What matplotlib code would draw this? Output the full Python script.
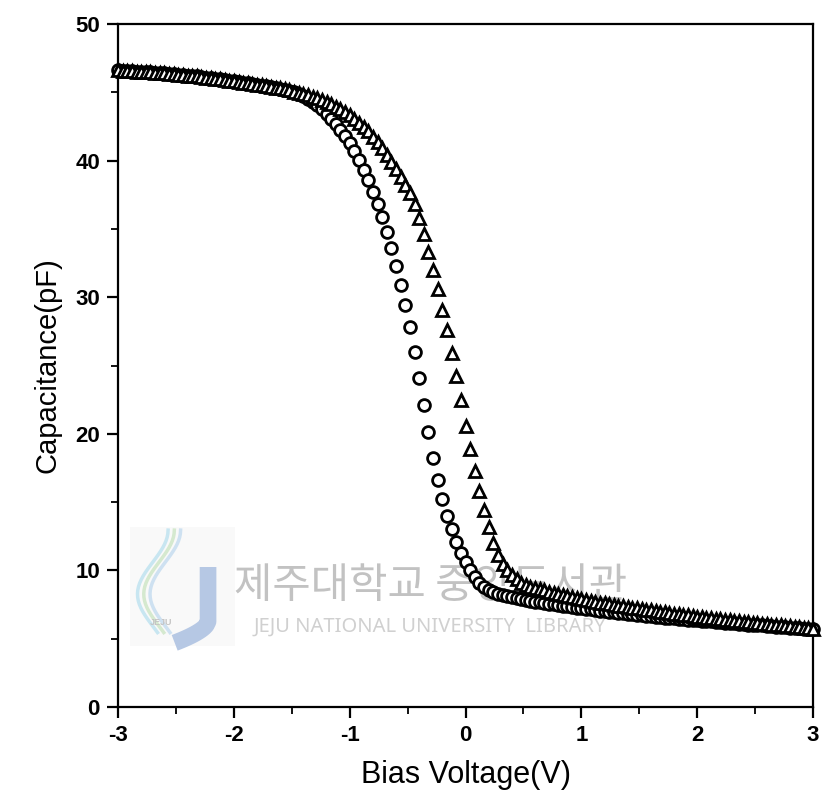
import numpy as np
import matplotlib

matplotlib.use("Agg")
import matplotlib.pyplot as plt  # noqa: E402
from matplotlib.patches import Rectangle  # noqa: E402

# C-V sweep, -3 V to +3 V in 0.04 V steps (151 points per branch).
BIAS_START = -3.0
BIAS_STEP = 0.04

# circle branch (pF)
cap_circle = [
    46.60, 46.58, 46.56, 46.54, 46.52, 46.50, 46.48, 46.46, 46.43, 46.41,
    46.38, 46.35, 46.32, 46.29, 46.26, 46.23, 46.20, 46.16, 46.12, 46.08,
    46.04, 46.00, 45.95, 45.90, 45.85, 45.80, 45.75, 45.70, 45.65, 45.60,
    45.55, 45.50, 45.45, 45.39, 45.33, 45.26, 45.18, 45.10, 45.00, 44.88,
    44.70, 44.52, 44.30, 44.05, 43.75, 43.42, 43.06, 42.68, 42.27, 41.82,
    41.30, 40.70, 40.05, 39.35, 38.55, 37.70, 36.80, 35.85, 34.80, 33.60,
    32.30, 30.90, 29.40, 27.80, 26.00, 24.10, 22.10, 20.10, 18.20, 16.60,
    15.20, 14.00, 13.00, 12.10, 11.30, 10.60, 10.00, 9.50, 9.10, 8.80,
    8.60, 8.45, 8.30, 8.20, 8.10, 8.02, 7.95, 7.90, 7.84, 7.78,
    7.72, 7.67, 7.62, 7.57, 7.52, 7.47, 7.42, 7.37, 7.32, 7.27,
    7.22, 7.18, 7.14, 7.10, 7.06, 7.02, 6.98, 6.94, 6.90, 6.86,
    6.82, 6.78, 6.74, 6.70, 6.67, 6.64, 6.61, 6.58, 6.55, 6.52,
    6.49, 6.46, 6.43, 6.40, 6.37, 6.34, 6.31, 6.28, 6.26, 6.23,
    6.20, 6.18, 6.15, 6.12, 6.10, 6.07, 6.04, 6.02, 5.99, 5.97,
    5.94, 5.92, 5.89, 5.87, 5.84, 5.82, 5.79, 5.77, 5.74, 5.72,
    5.69,
]

# triangle branch (pF)
cap_triangle = [
    46.60, 46.58, 46.56, 46.54, 46.52, 46.50, 46.48, 46.46, 46.43, 46.41,
    46.38, 46.35, 46.32, 46.29, 46.26, 46.23, 46.20, 46.16, 46.12, 46.08,
    46.04, 46.00, 45.95, 45.90, 45.85, 45.80, 45.75, 45.70, 45.65, 45.60,
    45.56, 45.51, 45.46, 45.41, 45.35, 45.29, 45.22, 45.14, 45.05, 44.97,
    44.88, 44.78, 44.67, 44.55, 44.42, 44.28, 44.12, 43.95, 43.77, 43.57,
    43.33, 43.07, 42.79, 42.48, 42.14, 41.75, 41.35, 40.90, 40.40, 39.90,
    39.40, 38.80, 38.20, 37.60, 36.80, 35.80, 34.60, 33.30, 32.00, 30.60,
    29.10, 27.60, 25.90, 24.20, 22.50, 20.60, 18.90, 17.30, 15.80, 14.40,
    13.20, 12.00, 11.10, 10.50, 10.00, 9.65, 9.35, 9.10, 8.95, 8.82,
    8.72, 8.62, 8.53, 8.44, 8.35, 8.26, 8.18, 8.10, 8.02, 7.95,
    7.88, 7.82, 7.76, 7.70, 7.64, 7.58, 7.53, 7.48, 7.42, 7.37,
    7.32, 7.27, 7.22, 7.17, 7.12, 7.07, 7.02, 6.97, 6.93, 6.88,
    6.84, 6.79, 6.75, 6.70, 6.65, 6.60, 6.56, 6.53, 6.49, 6.46,
    6.42, 6.39, 6.35, 6.32, 6.28, 6.25, 6.21, 6.18, 6.14, 6.11,
    6.07, 6.04, 6.00, 5.97, 5.93, 5.90, 5.86, 5.83, 5.79, 5.76,
    5.72,
]

x_ticks = [-3, -2, -1, 0, 1, 2, 3]
y_ticks = [0, 10, 20, 30, 40, 50]

bias_c = BIAS_START + BIAS_STEP * np.arange(len(cap_circle))
bias_t = BIAS_START + BIAS_STEP * np.arange(len(cap_triangle))

plt.rcParams["font.family"] = ["Liberation Sans", "DejaVu Sans"]
plt.rcParams["axes.unicode_minus"] = False

fig = plt.figure(figsize=(8.22, 7.96), dpi=100)
ax = fig.add_axes([0.1436, 0.1118, 0.8455, 0.858])

# library watermark sits underneath the data
wm = "#c2c2c2"
ax.add_patch(Rectangle((0.017, 0.09), 0.151, 0.173, transform=ax.transAxes,
                       facecolor="#f9f9f9", edgecolor="none", zorder=0.5))
ax.text(0.449, 0.176, "제주대학교 중앙도서관", transform=ax.transAxes,
        ha="center", va="center", fontsize=30, color=wm, zorder=1,
        family=["Noto Sans CJK KR", "DejaVu Sans"])
ax.text(0.449, 0.117, "JEJU NATIONAL UNIVERSITY  LIBRARY", transform=ax.transAxes,
        ha="center", va="center", fontsize=14.5, color="#d0d0d0", zorder=1,
        family=["Noto Sans", "DejaVu Sans"])
# J emblem: bar curving to the lower left, swooshes beside it
t = np.linspace(0, 1, 30)
jx = np.concatenate([np.full(30, 0.1295), 0.1295 - 0.048 * np.sin(t * np.pi / 2)])
jy = np.concatenate([np.linspace(0.205, 0.125, 30), 0.125 - 0.031 * np.sin(t * np.pi / 2) ** 0.6])
ax.plot(jx, jy, color="#b6c8e4", lw=12, solid_capstyle="butt",
        transform=ax.transAxes, zorder=1)
for dx, col in [(0.0, "#c8e6f1"), (0.009, "#d5e9cf"), (0.018, "#cee1f1")]:
    sx = 0.05 + dx + 0.022 * np.cos(1.6 * np.pi * t)
    sy = 0.259 - 0.15 * t
    ax.plot(sx, sy, color=col, lw=2.5, transform=ax.transAxes, zorder=1)
ax.text(0.062, 0.124, "JEJU", transform=ax.transAxes, ha="center", va="center",
        fontsize=6.5, color="#c4c4c4", fontweight="bold", zorder=1)

mk = dict(linestyle="none", markerfacecolor="white", markeredgecolor="black",
          markeredgewidth=2.0, clip_on=False, zorder=3)
ax.plot(bias_c, cap_circle, marker="o", markersize=8.5, **mk)
ax.plot(bias_t, cap_triangle, marker="^", markersize=9, **mk)

ax.set_xlim(-3, 3)
ax.set_ylim(0, 50)
ax.set_xticks(x_ticks)
ax.set_yticks(y_ticks)
ax.set_xticks(np.arange(-2.5, 3, 1.0), minor=True)
ax.set_yticks(np.arange(5, 50, 10), minor=True)

for s in ax.spines.values():
    s.set_linewidth(1.6)
ax.tick_params(which="major", direction="out", length=8, width=1.6,
               labelsize=16, pad=5, top=False, right=False)
ax.tick_params(which="minor", direction="out", length=5, width=1.3,
               top=False, right=False)
for lab in ax.get_xticklabels() + ax.get_yticklabels():
    lab.set_fontweight("bold")

ax.set_xlabel("Bias Voltage(V)", fontsize=22, labelpad=10)
ax.set_ylabel("Capacitance(pF)", fontsize=21, labelpad=10)

fig.savefig("out.png", dpi=100)
